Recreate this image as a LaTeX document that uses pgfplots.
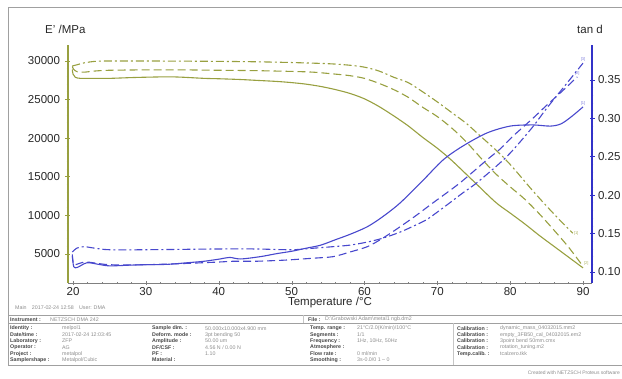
\documentclass[border=0pt]{standalone}
\usepackage{fontspec}
\setmainfont{Liberation Sans}
\usepackage{pgfplots}
\pgfplotsset{compat=1.18}
\definecolor{olv}{RGB}{152,160,64}
\definecolor{blu}{RGB}{72,72,205}
\definecolor{bluax}{RGB}{50,50,200}
\definecolor{gry}{RGB}{160,160,160}
\definecolor{txt}{RGB}{40,40,40}
\definecolor{lbl}{RGB}{70,70,70}
\definecolor{val}{RGB}{140,140,140}
\pgfplotsset{
  common/.style={scale only axis, width=524pt, height=238pt, at={(68pt,96pt)}, anchor=south west,
    xmin=19.31, xmax=91.23, clip=false, axis line style={-},
    scaled y ticks=false, scaled x ticks=false,
    tick label style={font=\fontsize{11.5}{13}\selectfont, text=txt},
    /pgf/number format/assume math mode=true},
  dsh/.style={dash pattern=on 8pt off 4pt},
  dshd/.style={dash pattern=on 8pt off 3pt on 2pt off 3pt},
}
\newcommand{\lab}[3]{\node[anchor=west, inner sep=0pt, font=\fontsize{5.3}{6}\selectfont\bfseries, text=lbl] at (#1pt,#2pt) {#3};}
\newcommand{\vl}[3]{\node[anchor=west, inner sep=0pt, font=\fontsize{5.3}{6}\selectfont, text=val] at (#1pt,#2pt) {#3};}
\begin{document}
\begin{tikzpicture}
\path[use as bounding box] (0pt,0pt) rectangle (622pt,379pt);
% outer frame
\draw[gry, line width=0.8pt] (8pt,14pt) -- (8pt,372pt) -- (622pt,372pt);
% x axis only
\begin{axis}[common, ymin=0, ymax=1, axis y line=none, axis x line*=bottom,
  x axis line style={gry!80!black, line width=0.6pt},
  xtick={20,30,...,90}, minor x tick num=4, tick align=center,
  major tick length=4pt, minor tick length=2pt, tick style={gry!80!black},
  xticklabel style={yshift=1pt}]
\end{axis}
% E' axis (left)
\begin{axis}[common, ymin=1244, ymax=32073, axis x line=none, axis y line*=left,
  y axis line style={olv, line width=1.2pt},
  ytick={5000,10000,...,30000}, minor y tick num=4, tick align=center,
  major tick length=5pt, minor tick length=2.5pt, tick style={olv, line width=0.8pt},
  yticklabel style={xshift=-2pt, /pgf/number format/1000 sep={}}]
\addplot[olv, line width=1.1pt, smooth] coordinates {
(19.9,28900) (20.0,28300) (20.3,27900) (21,27750) (23,27750) (25,27750) (28,27850) (30,27900) (33,27950) (35,27900) (38,27750) (40,27700) (43,27600) (45,27500) (48,27350) (50,27200) (52,27000) (54,26700) (56,26300) (58,25800) (60,25100) (62,24100) (64,22900) (66,21600) (68,20100) (70,18700) (72,17100) (75,14400) (78,11700) (80,10300) (82,8900) (84,7400) (86,6000) (88,4600) (90,3200)};
\addplot[olv, line width=1.1pt, dsh, smooth] coordinates {
(19.9,29300) (20.1,28900) (20.6,28600) (21.5,28550) (23,28700) (25,28800) (30,28850) (35,28850) (40,28800) (45,28750) (50,28650) (53,28550) (56,28300) (58,28100) (60,27750) (62,27100) (64,26300) (66,25300) (68,24000) (70,22800) (72,21300) (74,19500) (76,17400) (78,15400) (80,13700) (82,12100) (84,10200) (86,8100) (88,5900) (90,3400)}
 node[pos=1, anchor=south west, inner sep=0.5pt, font=\fontsize{4}{4}\selectfont, text=olv!80] {[2]};
\addplot[olv, line width=1.1pt, dshd, smooth] coordinates {
(19.9,29350) (20.5,29500) (21.5,29750) (23,29950) (25,30000) (30,30000) (35,29980) (40,29950) (45,29900) (50,29800) (55,29650) (58,29450) (60,29200) (62,28700) (64,27900) (66,27200) (68,26000) (70,24700) (72,23300) (74,21900) (76,20200) (78,18500) (80,16600) (83,13300) (85,11200) (87,9200) (88.6,7700)}
 node[pos=1, anchor=west, inner sep=0.5pt, font=\fontsize{4}{4}\selectfont, text=olv!80] {[1]};
\end{axis}
% tan d axis (right)
\begin{axis}[common, ymin=0.0857, ymax=0.3956, axis x line=none, axis y line*=right,
  y axis line style={bluax, line width=1.2pt},
  ytick={0.10,0.15,...,0.36}, minor y tick num=4, tick align=center,
  major tick length=5pt, minor tick length=2.5pt, tick style={bluax, line width=0.8pt},
  yticklabel style={/pgf/number format/.cd, fixed, fixed zerofill, precision=2}]
\addplot[blu, line width=1.1pt, smooth] coordinates {
(19.9,0.121) (20.1,0.107) (20.6,0.106) (21.9,0.112) (23.5,0.110) (25,0.108) (28,0.109) (30,0.1095) (33,0.110) (35.6,0.112) (38,0.114) (40.2,0.117) (41.5,0.119) (43,0.117) (45.7,0.120) (48,0.124) (50,0.127) (52,0.131) (54,0.135) (56,0.142) (58,0.149) (60.4,0.159) (62.5,0.172) (64.9,0.190) (68,0.219) (70.8,0.246) (73.5,0.264) (76.8,0.281) (80,0.290) (83.1,0.2915) (85.5,0.290) (87,0.293) (88.5,0.303) (90,0.315)}
 node[pos=1, anchor=south, inner sep=1pt, font=\fontsize{4}{4}\selectfont, text=blu!70] {[1]};
\addplot[blu, line width=1.1pt, dsh, smooth] coordinates {
(19.9,0.123) (20.1,0.110) (20.8,0.111) (21.9,0.113) (25,0.1095) (30,0.1095) (35,0.111) (40,0.113) (42,0.114) (45,0.114) (48,0.115) (50,0.116) (53,0.118) (55.7,0.120) (58,0.126) (60.4,0.133) (62.5,0.144) (64.9,0.159) (67,0.173) (69.4,0.190) (73.1,0.216) (76.8,0.246) (78.6,0.260) (80.4,0.277) (83.1,0.300) (85,0.317) (87.2,0.336) (89.2,0.354)}
 node[pos=1, anchor=south, inner sep=1pt, font=\fontsize{4}{4}\selectfont, text=blu!70] {[2]};
\addplot[blu, line width=1.1pt, dshd, smooth] coordinates {
(19.9,0.126) (20.5,0.131) (21.5,0.133) (23,0.131) (25,0.129) (30,0.129) (40,0.130) (45,0.130) (50,0.129) (53,0.131) (55.7,0.133) (58,0.135) (60.4,0.139) (62.5,0.144) (64.9,0.152) (67,0.161) (68.5,0.168) (70,0.178) (71.7,0.190) (73.5,0.203) (75.4,0.216) (78.6,0.242) (80.4,0.259) (83.1,0.289) (85,0.313) (87.8,0.346) (90,0.372)}
 node[pos=1, anchor=south, inner sep=1pt, font=\fontsize{4}{4}\selectfont, text=blu!70] {[3]};
\end{axis}
% axis titles
\node[anchor=west, inner sep=0pt, font=\fontsize{11.5}{13}\selectfont, text=txt] at (45pt,350pt) {E' /MPa};
\node[inner sep=0pt, font=\fontsize{11.5}{13}\selectfont, text=txt] at (590pt,350pt) {tan d};
\node[inner sep=0pt, font=\fontsize{11.5}{13}\selectfont, text=txt] at (330pt,76pt) {Temperature /°C};
% footer info
\node[anchor=west, inner sep=0pt, font=\fontsize{5.3}{6}\selectfont, text=val] at (15pt,71pt) {Main\quad 2017-02-24 12:58\quad User: DMA};
\draw[gry, line width=0.6pt] (8pt,63.5pt) -- (622pt,63.5pt);
\draw[gry, line width=0.6pt] (8pt,55.5pt) -- (622pt,55.5pt);
\draw[gry, line width=0.6pt] (8pt,14pt) -- (622pt,14pt);
\draw[gry!60, line width=0.4pt] (303pt,63.5pt) -- (303pt,55.5pt);
\draw[gry!60, line width=0.4pt] (453pt,55.5pt) -- (453pt,14pt);
\lab{10}{59.5}{Instrument :}\vl{50}{59.5}{NETZSCH DMA 242}
\lab{308}{59.5}{File :}\vl{325}{59.5}{D:\textbackslash Grabowski Adam\textbackslash metal1 ngb.dm2}
\lab{10}{50.5}{Identity :}\vl{62}{50.5}{melpol1}
\lab{10}{44.2}{Date/time :}\vl{62}{44.2}{2017-02-24 12:03:45}
\lab{10}{37.9}{Laboratory :}\vl{62}{37.9}{ZFP}
\lab{10}{31.6}{Operator :}\vl{62}{31.6}{AG}
\lab{10}{25.3}{Project :}\vl{62}{25.3}{metalpol}
\lab{10}{19}{Samplershape :}\vl{62}{19}{Metalpol/Cubic}
\lab{152}{50.5}{Sample dim. :}\vl{205}{50.5}{50.000x10.000x4.900 mm}
\lab{152}{44.2}{Deform. mode :}\vl{205}{44.2}{3pt bending 50}
\lab{152}{37.9}{Amplitude :}\vl{205}{37.9}{50.00 um}
\lab{152}{31.6}{DF/CSF :}\vl{205}{31.6}{4.56 N / 0.00 N}
\lab{152}{25.3}{PF :}\vl{205}{25.3}{1.10}
\lab{152}{19}{Material :}
\lab{310}{50.5}{Temp. range :}\vl{357}{50.5}{21°C/2.0(K/min)/100°C}
\lab{310}{44.2}{Segments :}\vl{357}{44.2}{1/1}
\lab{310}{37.9}{Frequency :}\vl{357}{37.9}{1Hz, 10Hz, 50Hz}
\lab{310}{31.6}{Atmosphere :}
\lab{310}{25.3}{Flow rate :}\vl{357}{25.3}{0 ml/min}
\lab{310}{19}{Smoothing :}\vl{357}{19}{3s-0.0/0 1 -- 0}
\lab{457}{50.5}{Calibration :}\vl{500}{50.5}{dynamic\_mass\_04032015.mm2}
\lab{457}{44.2}{Calibration :}\vl{500}{44.2}{empty\_3FB50\_cal\_04032015.em2}
\lab{457}{37.9}{Calibration :}\vl{500}{37.9}{3point bend 50mm.cmx}
\lab{457}{31.6}{Calibration :}\vl{500}{31.6}{rotation\_tuning.m2}
\lab{457}{25.3}{Temp.calib. :}\vl{500}{25.3}{tcalzero.tkk}
\node[anchor=east, inner sep=0pt, font=\fontsize{5}{6}\selectfont, text=val] at (620pt,6pt) {Created with NETZSCH Proteus software};
\end{tikzpicture}
\end{document}
